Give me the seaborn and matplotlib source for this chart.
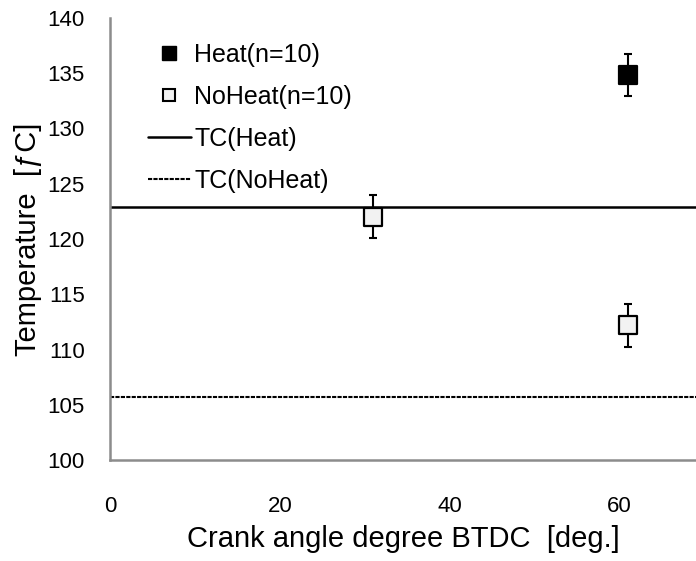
import matplotlib
matplotlib.use("Agg")
import matplotlib.pyplot as plt
import pandas as pd
import seaborn as sns
from matplotlib.lines import Line2D

# data
heat_x = [61]
heat_y = [134.8]
heat_err = [1.9]
noheat_x = [31, 61]
noheat_y = [122.0, 112.2]
noheat_err = [1.95, 1.95]
tc_heat = 122.9
tc_noheat = 105.7
x_ticks = [0, 20, 40, 60]
y_ticks = [100, 105, 110, 115, 120, 125, 130, 135, 140]

sns.set_theme(style="white")
plt.rcParams["font.family"] = ["Liberation Sans", "DejaVu Sans"]
plt.rcParams["text.color"] = "black"
plt.rcParams["axes.labelcolor"] = "black"
plt.rcParams["xtick.labelcolor"] = "black"
plt.rcParams["ytick.labelcolor"] = "black"

df = pd.concat([
    pd.DataFrame({"angle": heat_x, "temp": heat_y, "err": heat_err, "group": "Heat(n=10)"}),
    pd.DataFrame({"angle": noheat_x, "temp": noheat_y, "err": noheat_err, "group": "NoHeat(n=10)"}),
], ignore_index=True)

fig = plt.figure(figsize=(6.96, 5.61), dpi=100)
ax = fig.add_axes([0.158, 0.18, 0.842, 0.788])

ax.axhline(tc_heat, color="black", lw=1.8, zorder=1)
ax.axhline(tc_noheat, color="black", lw=1.5, ls=(0, (2, 0.6)), zorder=1)

for grp, fc in [("Heat(n=10)", "black"), ("NoHeat(n=10)", "#f2f2f2")]:
    sub = df[df["group"] == grp]
    ax.errorbar(sub["angle"], sub["temp"], yerr=sub["err"], fmt="none",
                ecolor="black", elinewidth=1.5, capsize=3, capthick=1.5, zorder=2)
    sns.scatterplot(data=sub, x="angle", y="temp", marker="s", s=180,
                    color=fc, edgecolor="black", linewidth=1.6, ax=ax, zorder=3, legend=False)

ax.set_xlim(0, 69)
ax.set_ylim(100, 140)
ax.set_xticks(x_ticks)
ax.set_yticks(y_ticks)
ax.tick_params(direction="in", length=6, width=1.5, color="#8c8c8c", labelsize=16,
               labelcolor="black")
ax.tick_params(axis="x", pad=26)
ax.tick_params(axis="y", pad=18)
for side in ["top", "right"]:
    ax.spines[side].set_visible(False)
for side in ["left", "bottom"]:
    ax.spines[side].set_color("#8c8c8c")
    ax.spines[side].set_linewidth(1.8)

ax.set_xlabel("Crank angle degree BTDC  [deg.]", fontsize=21, labelpad=6, color="black")
ax.set_ylabel("Temperature  [\u0192C]", fontsize=21, labelpad=4, color="black")

handles = [
    Line2D([], [], marker="s", color="none", markerfacecolor="black",
           markeredgecolor="black", markersize=10.5, label="Heat(n=10)"),
    Line2D([], [], marker="s", color="none", markerfacecolor="#f2f2f2",
           markeredgecolor="black", markeredgewidth=1.5, markersize=8.5, label="NoHeat(n=10)"),
    Line2D([], [], color="black", lw=1.8, label="TC(Heat)"),
    Line2D([], [], color="black", lw=1.5, ls=(0, (2, 0.6)), label="TC(NoHeat)"),
]
leg = ax.legend(handles=handles, loc="upper left", bbox_to_anchor=(0.026, 0.995), frameon=False,
                fontsize=18, handlelength=1.72, handletextpad=0.15, labelspacing=0.72)
for t in leg.get_texts():
    t.set_color("black")

fig.savefig("out.png", dpi=100)
